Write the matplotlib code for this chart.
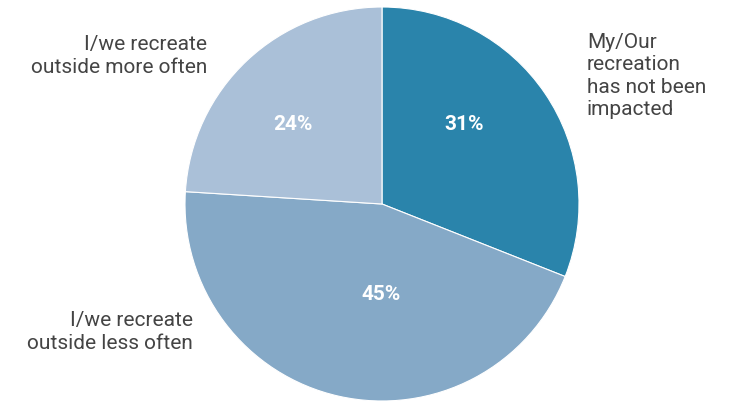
import matplotlib
matplotlib.use('Agg')
import matplotlib.pyplot as plt

labels = ['My/Our\nrecreation\nhas not been\nimpacted',
          'I/we recreate\noutside less often',
          'I/we recreate\noutside more often']
values = [31, 45, 24]
colors = ['#2a84ab', '#85a9c7', '#aac0d8']

plt.rcParams['font.family'] = ['Roboto', 'DejaVu Sans']

fig = plt.figure(figsize=(7.31, 4.01), dpi=100)
ax = fig.add_axes([0, 0, 1, 1])

# y axis inverted, so angles run the other way: counterclock=True draws clockwise on screen
ax.pie(values, colors=colors, startangle=-90, counterclock=True,
       center=(382, 204), radius=197, frame=True,
       wedgeprops=dict(edgecolor='white', linewidth=0.8))
ax.set_xlim(0, 731)
ax.set_ylim(401, 0)
ax.set_aspect('equal')
ax.axis('off')

pct_pos = [(464, 125), (381, 295), (293, 125)]
for v, (x, y) in zip(values, pct_pos):
    ax.text(x, y, '%d%%' % v, color='white', fontsize=15, fontweight='bold',
            ha='center', va='center')

txt = dict(fontsize=15, color='#444444', linespacing=1.22)
ax.text(587, 76, labels[0], ha='left', va='center', **txt)
ax.text(193, 332, labels[1], ha='right', va='center', multialignment='right', **txt)
ax.text(207, 56, labels[2], ha='right', va='center', multialignment='right', **txt)

plt.savefig('out.png', dpi=100)
